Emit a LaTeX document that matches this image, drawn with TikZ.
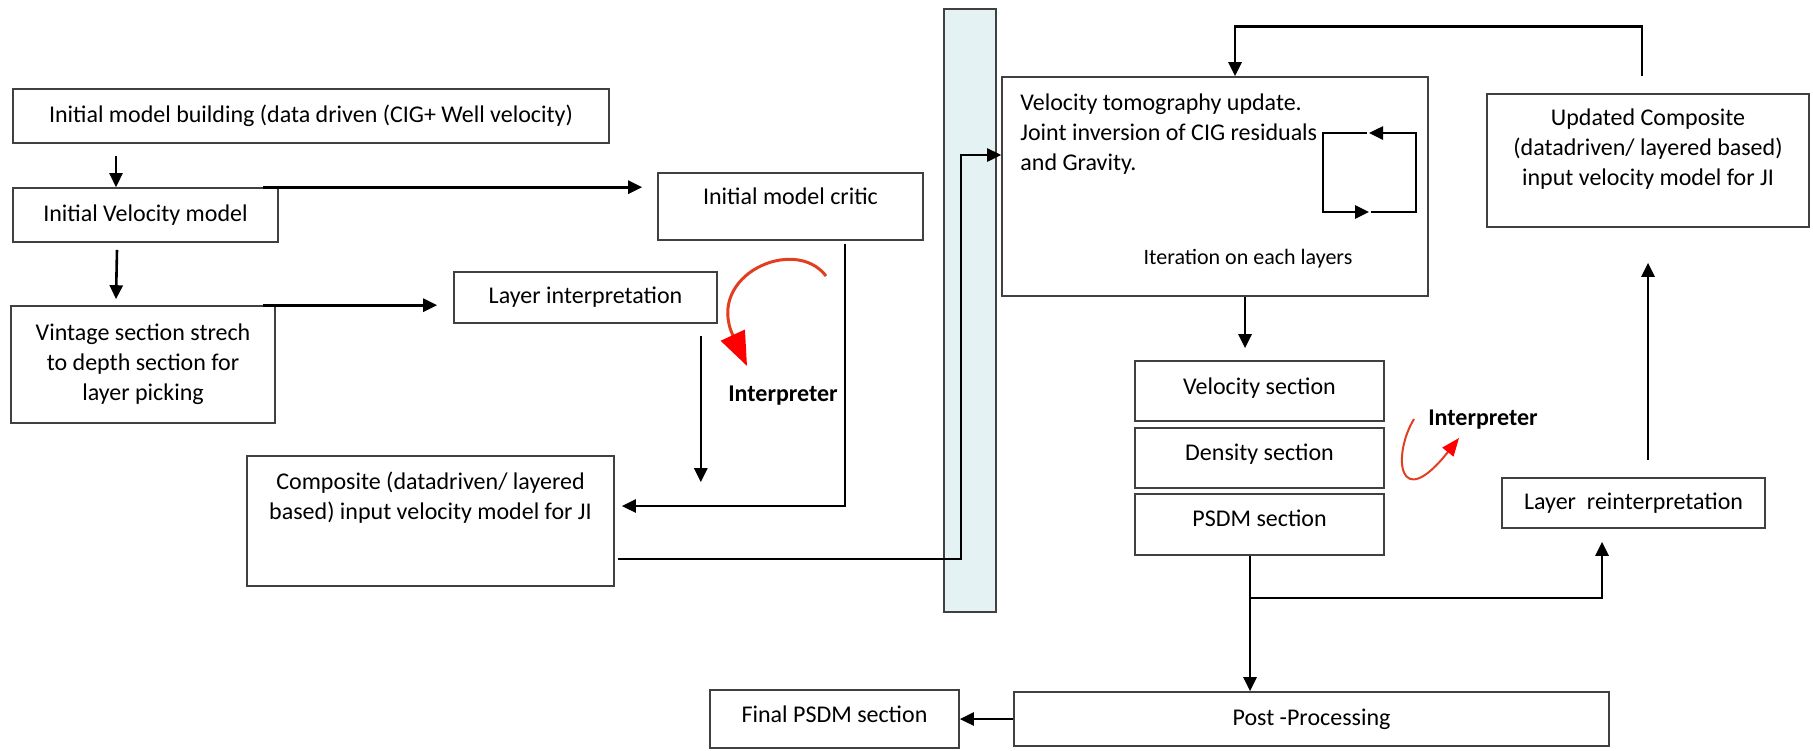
\documentclass[tikz,border=0pt]{standalone}
\usepackage{fontspec}
\setmainfont{Carlito}
\usetikzlibrary{arrows.meta}
\definecolor{boxline}{RGB}{64,64,64}
\definecolor{barfill}{RGB}{228,242,243}
\definecolor{redline}{RGB}{226,62,32}

\begin{document}
\begin{tikzpicture}[x=0.5pt,y=-0.5pt,font=\fontsize{12}{15}\selectfont,
    box/.style={draw=boxline,line width=0.8pt,inner sep=2pt,align=center},
    lift/.style 2 args={text height=#1,text depth=#2},
    arr/.style={-{Triangle[length=7pt,width=6.5pt]},line width=1.3pt},
    turn/.style={draw=redline,line width=1.5pt,-{Triangle[length=17pt,width=13pt,color=red]}},
    smallturn/.style={draw=redline,line width=1pt,-{Triangle[length=9pt,width=7pt,color=red]}},
    who/.style={font=\bfseries\fontsize{12}{15}\selectfont}]
\useasboundingbox (0,0) rectangle (1813,750);

% left part
\node[box,minimum width=298pt,minimum height=27pt] (build) at (311,116) {Initial model building (data driven (CIG+ Well velocity)};
\node[box,minimum width=132.5pt,minimum height=27pt] (ivm) at (145.5,215) {Initial Velocity model};
\node[box,minimum width=132pt,minimum height=58.5pt] (vint) at (143,364.5) {Vintage section strech\\to depth section for\\layer picking};
\node[box,minimum width=131.5pt,minimum height=25.5pt] (layer) at (585.5,297.5) {Layer interpretation};
\node[box,lift={9pt}{11.5pt},minimum width=132.5pt,minimum height=33.5pt] (critic) at (790.5,206.5) {Initial model critic};
\node[box,lift={20pt}{22pt},minimum width=183.5pt,minimum height=65pt] (comp) at (430.5,521) {Composite (datadriven/ layered\\based) input velocity model for JI};
\node[who] (who1) at (783,396) {Interpreter};

% separator
\node[draw=boxline,line width=0.8pt,fill=barfill,inner sep=0,minimum width=26pt,minimum height=301.5pt] (bar) at (970,310.5) {};

% right part
\node[box,minimum width=213pt,minimum height=109.5pt] (tomo) at (1215,186.5) {};
\node[anchor=north west,align=left,inner sep=0] (tomotxt) at (1020,93) {Velocity tomography update.\\Joint inversion of CIG residuals\\and Gravity.};
\node[font=\fontsize{11}{13}\selectfont] (iter) at (1248,259) {Iteration on each layers};
\node[box,lift={30pt}{5.5pt},minimum width=161pt,minimum height=66.5pt] (upd) at (1648,160.5) {Updated Composite\\(datadriven/ layered based)\\input velocity model for JI};
\node[box,lift={9pt}{6pt},minimum width=124.5pt,minimum height=30pt] (vsec) at (1259.5,391) {Velocity section};
\node[box,lift={9pt}{7pt},minimum width=124.5pt,minimum height=30pt] (dsec) at (1259.5,458) {Density section};
\node[box,lift={9pt}{7.5pt},minimum width=124.5pt,minimum height=30.5pt] (psdm) at (1259.5,524.5) {PSDM section};
\node[box,minimum width=131.5pt,minimum height=25pt] (reint) at (1633.5,503) {Layer\ \ reinterpretation};
\node[who] (who2) at (1483,420) {Interpreter};
\node[box,lift={9pt}{6pt},minimum width=124.5pt,minimum height=29pt] (final) at (834.5,719) {Final PSDM section};
\node[box,minimum width=297.5pt,minimum height=27pt] (post) at (1311.5,719) {Post -Processing};

% arrows left
\draw[arr] ([xshift=-97.5pt,yshift=-6pt]build.south) -- ([xshift=-14.75pt]ivm.north);
\draw[arr] ([xshift=-14.25pt,yshift=-3.5pt]ivm.south) -- ([xshift=-13.5pt,yshift=3pt]vint.north);
\draw[arr] ([xshift=-8pt]ivm.north east) -- ([xshift=-7.5pt]ivm.north east -| critic.west);
\draw[arr] ([xshift=-6.5pt]vint.north east) -- ([xshift=-8pt]vint.north east -| layer.west);
\draw[arr] ([xshift=-8.5pt,yshift=-6pt]layer.south east) -- ([xshift=-8.5pt,yshift=-13.5pt]layer.south east |- comp.north);
\draw[arr] ([xshift=27.25pt,yshift=-1.5pt]critic.south) |- ([xshift=3.5pt,yshift=7.5pt]comp.east);

% across the bar
\coordinate (up1) at (961,559);
\coordinate (up2) at (961,155);
\draw[arr] ([xshift=1.5pt]comp.east |- up1) -- (up1) -- (up2) -- (up2 -| tomo.west);

% arrows right
\draw[arr] ([xshift=-3pt,yshift=8.5pt]upd.north) -- ++(0,25pt) -| ([xshift=10pt]tomo.north);
\draw[arr] ([xshift=15pt]tomo.south) -- ([xshift=15pt,yshift=6pt]tomo.south |- vsec.north);
\draw[arr] ([xshift=-4.75pt]psdm.south) -- ([xshift=-4.75pt]psdm.south |- post.north);
\coordinate (fork) at (1250,598);
\draw[arr] (fork) -| ([xshift=-15.75pt,yshift=-6.5pt]reint.south);
\draw[arr] ([xshift=7.25pt,yshift=8.5pt]reint.north) -- ([yshift=-17.5pt]upd.south);
\draw[arr] (post.west) -- (final.east);

% iteration loop
\coordinate (lnw) at (1323,133);
\coordinate (lne) at (1416,133);
\coordinate (lse) at (1416,212);
\coordinate (lsw) at (1323,212);
\coordinate (ltop) at (1369,133);
\coordinate (lbot) at (1369,212);
\draw[arr,shorten <=1pt] (ltop) -- (lnw) -- (lsw) -- (lbot);
\draw[arr,shorten <=1pt] (lbot) -- (lse) -- (lne) -- (ltop);

% interpreter turns
\draw[turn] (826,276) .. controls (795,235) and (705,275) .. (747,366);
\draw[smallturn] (1414,419) .. controls (1392,455) and (1398,515) .. (1459,438);
\end{tikzpicture}
\end{document}
